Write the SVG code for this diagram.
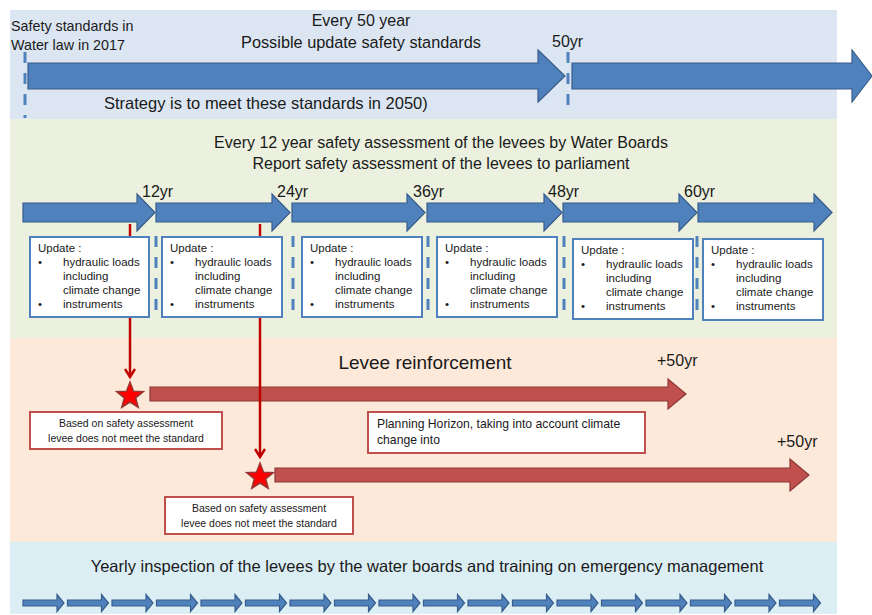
<svg xmlns="http://www.w3.org/2000/svg" width="872" height="615" viewBox="0 0 872 615">
<style>
text{font-family:"Liberation Sans",Arial,sans-serif;fill:#1a1a1a}
.t14{font-size:14.3px}
.t16{font-size:16px}
.t11{font-size:11.5px}
.t10{font-size:10.5px}
.bar{fill:#4f81bd;stroke:#385d8a;stroke-width:1.2}
.rbar{fill:#c0504d;stroke:#8c3836;stroke-width:1.2}
.dash{stroke:#4f81bd;stroke-width:3;stroke-dasharray:11 10;fill:none}
.box{fill:#fff;stroke:#4f81bd;stroke-width:2}
.rbox{fill:#fff;stroke:#c0504d;stroke-width:2}
.rline{stroke:#c00000;stroke-width:2.5;fill:none}
.star{fill:#ff0000;stroke:#943634;stroke-width:1.5}
</style>
<defs>
<marker id="va" markerWidth="12" markerHeight="12" refX="10" refY="6" orient="auto" markerUnits="userSpaceOnUse" viewBox="0 0 12 12">
<polyline points="2,1 10,6 2,11" fill="none" stroke="#c00000" stroke-width="2.5"/>
</marker>
<path id="star" d="M0,-14 L3.53,-4.85 L13.31,-4.33 L5.71,1.85 L8.23,11.33 L0,6 L-8.23,11.33 L-5.71,1.85 L-13.31,-4.33 L-3.53,-4.85 Z"/>
<path id="sa" d="M0,-3 H34 V-8.5 L41,0 L34,8.5 V3 H0 Z"/>
</defs>

<g id="panels">
<rect x="10" y="10" width="827" height="109" fill="#dce6f2"/>
<rect x="10" y="119" width="827" height="219" fill="#ebf1de"/>
<rect x="10" y="338" width="827" height="204" fill="#fde9d9"/>
<rect x="10" y="542" width="827" height="72" fill="#dbeef4"/>
</g>

<g id="standards">
<text class="t14" x="11" y="31">Safety standards in</text>
<text class="t14" x="11" y="50">Water law in 2017</text>
<text class="t16" x="361" y="26" text-anchor="middle">Every 50 year</text>
<text class="t16" x="361" y="48" text-anchor="middle" style="font-size:16.3px">Possible update safety standards</text>
<text class="t16" x="552" y="47">50yr</text>
<path class="bar" d="M28,63 H538 V50 L565,76 L538,102 V89 H28 Z"/>
<path class="bar" d="M572,63 H852 V50 L872,76 L852,102 V89 H572 Z"/>
<line class="dash" x1="25" y1="52" x2="25" y2="118"/>
<line class="dash" x1="568" y1="52" x2="568" y2="112"/>
<text x="104" y="109" style="font-size:16.5px">Strategy is to meet these standards in 2050)</text>
</g>

<g id="assessment">
<text class="t16" x="441" y="148" text-anchor="middle">Every 12 year safety assessment of the levees by Water Boards</text>
<text class="t16" x="441" y="169" text-anchor="middle">Report safety assessment of the levees to parliament</text>
<path class="bar" d="M23,203 H137 V194 L155,212.5 L137,231 V222 H23 Z"/>
<path class="bar" d="M156,203 H272 V194 L290,212.5 L272,231 V222 H156 Z"/>
<path class="bar" d="M292,203 H407 V194 L425,212.5 L407,231 V222 H292 Z"/>
<path class="bar" d="M427,203 H544 V194 L562,212.5 L544,231 V222 H427 Z"/>
<path class="bar" d="M563,203 H679 V194 L697,212.5 L679,231 V222 H563 Z"/>
<path class="bar" d="M698,203 H814 V194 L832,212.5 L814,231 V222 H698 Z"/>
<text class="t16" x="142" y="197">12yr</text>
<text class="t16" x="277" y="197">24yr</text>
<text class="t16" x="413" y="197">36yr</text>
<text class="t16" x="548" y="197">48yr</text>
<text class="t16" x="684" y="197">60yr</text>
<line class="dash" x1="156" y1="236" x2="156" y2="320"/>
<line class="dash" x1="293" y1="236" x2="293" y2="320"/>
<line class="dash" x1="428" y1="236" x2="428" y2="320"/>
<line class="dash" x1="564" y1="236" x2="564" y2="320"/>
<line class="dash" x1="697" y1="236" x2="697" y2="320"/>
</g>

<g id="connectors">
<line class="rline" x1="130" y1="224" x2="130" y2="377" marker-end="url(#va)"/>
<path class="rbar" d="M150,387 H668 V379 L686,394 L668,409 V401 H150 Z"/>
<path class="rbar" d="M275,468 H790 V459 L809,475 L790,491 V482 H275 Z"/>
<line class="rline" x1="260" y1="224" x2="260" y2="457" marker-end="url(#va)"/>
</g>

<g id="update1">
<rect class="box" x="30" y="237" width="119" height="80"/>
<text class="t11" x="38" y="252">Update :</text>
<text class="t11" x="38" y="266">•</text><text class="t11" x="63" y="266">hydraulic loads</text>
<text class="t11" x="63" y="280">including</text>
<text class="t11" x="63" y="294">climate change</text>
<text class="t11" x="38" y="308">•</text><text class="t11" x="63" y="308">instruments</text>
</g>
<g id="update2">
<rect class="box" x="162" y="237" width="120" height="80"/>
<text class="t11" x="170" y="252">Update :</text>
<text class="t11" x="170" y="266">•</text><text class="t11" x="195" y="266">hydraulic loads</text>
<text class="t11" x="195" y="280">including</text>
<text class="t11" x="195" y="294">climate change</text>
<text class="t11" x="170" y="308">•</text><text class="t11" x="195" y="308">instruments</text>
</g>
<g id="update3">
<rect class="box" x="302" y="237" width="120" height="80"/>
<text class="t11" x="310" y="252">Update :</text>
<text class="t11" x="310" y="266">•</text><text class="t11" x="335" y="266">hydraulic loads</text>
<text class="t11" x="335" y="280">including</text>
<text class="t11" x="335" y="294">climate change</text>
<text class="t11" x="310" y="308">•</text><text class="t11" x="335" y="308">instruments</text>
</g>
<g id="update4">
<rect class="box" x="437" y="237" width="120" height="80"/>
<text class="t11" x="445" y="252">Update :</text>
<text class="t11" x="445" y="266">•</text><text class="t11" x="470" y="266">hydraulic loads</text>
<text class="t11" x="470" y="280">including</text>
<text class="t11" x="470" y="294">climate change</text>
<text class="t11" x="445" y="308">•</text><text class="t11" x="470" y="308">instruments</text>
</g>
<g id="update5">
<rect class="box" x="573" y="239" width="120" height="80"/>
<text class="t11" x="581" y="254">Update :</text>
<text class="t11" x="581" y="268">•</text><text class="t11" x="606" y="268">hydraulic loads</text>
<text class="t11" x="606" y="282">including</text>
<text class="t11" x="606" y="296">climate change</text>
<text class="t11" x="581" y="310">•</text><text class="t11" x="606" y="310">instruments</text>
</g>
<g id="update6">
<rect class="box" x="703" y="239" width="120" height="81"/>
<text class="t11" x="711" y="254">Update :</text>
<text class="t11" x="711" y="268">•</text><text class="t11" x="736" y="268">hydraulic loads</text>
<text class="t11" x="736" y="282">including</text>
<text class="t11" x="736" y="296">climate change</text>
<text class="t11" x="711" y="310">•</text><text class="t11" x="736" y="310">instruments</text>
</g>

<g id="reinforcement">
<text x="425" y="369" text-anchor="middle" style="font-size:19px">Levee reinforcement</text>
<text class="t16" x="657" y="366">+50yr</text>
<text class="t16" x="777" y="447">+50yr</text>
<use href="#star" class="star" transform="translate(130,396)"/>
<use href="#star" class="star" transform="translate(260,477)"/>
</g>
<g id="note1">
<rect class="rbox" x="30" y="412" width="192" height="37"/>
<text class="t10" x="126" y="427" text-anchor="middle">Based on safety assessment</text>
<text class="t10" x="126" y="442" text-anchor="middle">levee does not meet the standard</text>
</g>
<g id="note2">
<rect class="rbox" x="165" y="497" width="188" height="37"/>
<text class="t10" x="259" y="512" text-anchor="middle">Based on safety assessment</text>
<text class="t10" x="259" y="527" text-anchor="middle">levee does not meet the standard</text>
</g>
<g id="note3">
<rect class="rbox" x="368" y="412" width="277" height="41"/>
<text x="377" y="428" style="font-size:12.2px">Planning Horizon, taking into account climate</text>
<text x="377" y="444" style="font-size:12.2px">change into</text>
</g>

<g id="yearly">
<text x="427" y="572" text-anchor="middle" style="font-size:16.5px">Yearly inspection of the levees by the water boards and training on emergency management</text>
<g class="bar">
<use href="#sa" transform="translate(23,603)"/>
<use href="#sa" transform="translate(67.5,603)"/>
<use href="#sa" transform="translate(112,603)"/>
<use href="#sa" transform="translate(156.5,603)"/>
<use href="#sa" transform="translate(201,603)"/>
<use href="#sa" transform="translate(245.5,603)"/>
<use href="#sa" transform="translate(290,603)"/>
<use href="#sa" transform="translate(334.5,603)"/>
<use href="#sa" transform="translate(379,603)"/>
<use href="#sa" transform="translate(423.5,603)"/>
<use href="#sa" transform="translate(468,603)"/>
<use href="#sa" transform="translate(512.5,603)"/>
<use href="#sa" transform="translate(557,603)"/>
<use href="#sa" transform="translate(601.5,603)"/>
<use href="#sa" transform="translate(646,603)"/>
<use href="#sa" transform="translate(690.5,603)"/>
<use href="#sa" transform="translate(735,603)"/>
<use href="#sa" transform="translate(779.5,603)"/>
</g>
</g>
</svg>
